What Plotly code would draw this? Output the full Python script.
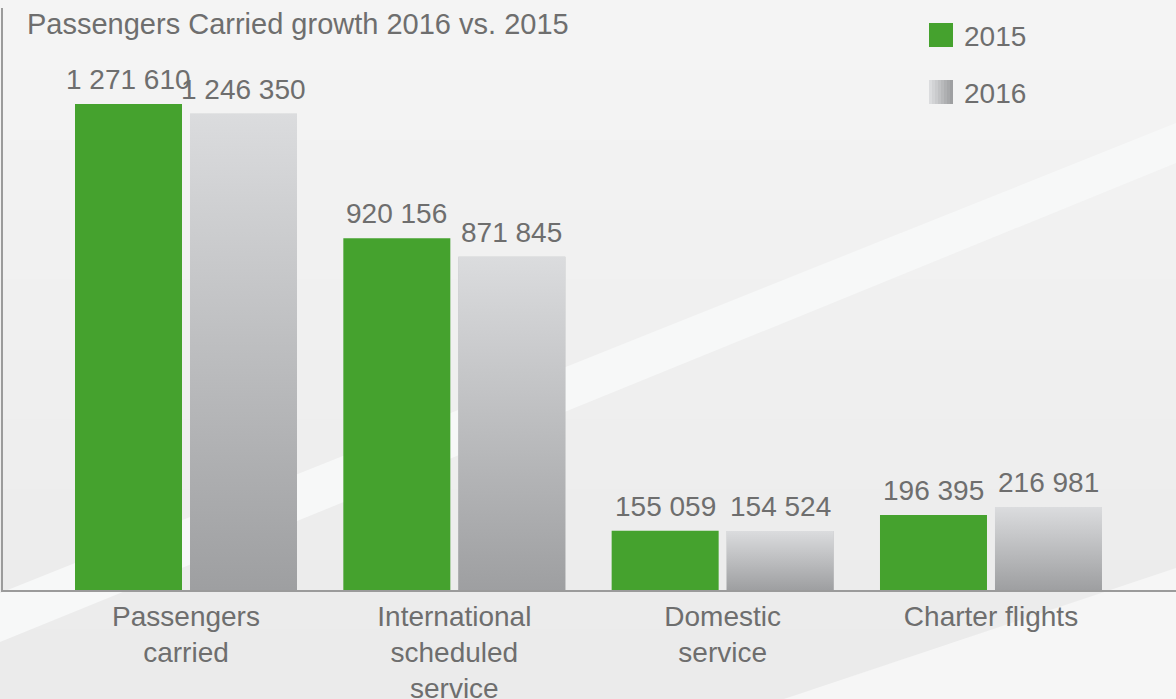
import plotly.graph_objects as go

# ---------------- data ----------------
categories = ["Passengers carried", "International scheduled service",
              "Domestic service", "Charter flights"]
tick_labels = ["Passengers<br>carried", "International<br>scheduled<br>service",
               "Domestic<br>service", "Charter flights"]
series_names = ["2015", "2016"]
values_2015 = [1271610, 920156, 155059, 196395]
values_2016 = [1246350, 871845, 154524, 216981]
title_text = "Passengers Carried growth 2016 vs. 2015"

# ---------------- layout constants ----------------
W, H = 1176, 699
ML, MR, MT, MB = 3, 0, 8, 109
PW = W - ML - MR
PH = H - MT - MB


def px_x(px):
    return (px - ML) / PW


def px_y(py):
    return (H - MB - py) / PH


GREEN = "#45a22e"
GRAY_TOP = "#dbdcde"
GRAY_BOT = "#9e9fa1"
TEXT = "#6e6e6e"
AXIS = "#9b9b9b"
FONT = "Liberation Sans, Arial, sans-serif"

UNIT = 268.33                     # px per category
BAR_W = 107 / UNIT
GAP = 8 / UNIT
off_2015 = -GAP / 2 - BAR_W
off_2016 = GAP / 2
XR = [-(186 - ML) / UNIT, -(186 - ML) / UNIT + PW / UNIT]
YMAX = 1522800

pos = list(range(len(categories)))


def fmt(v):
    return f"{v:,}".replace(",", " ")


fig = go.Figure()

fig.add_trace(go.Bar(
    x=pos, y=values_2015, name=series_names[0], offset=off_2015, width=BAR_W,
    marker=dict(color=GREEN, line=dict(width=0)), showlegend=False,
    customdata=categories, hovertemplate="%{customdata}: %{y}<extra>2015</extra>"))
fig.add_trace(go.Bar(
    x=pos, y=values_2016, name=series_names[1], offset=off_2016, width=BAR_W,
    marker=dict(color="#bdbec0", line=dict(width=0)), showlegend=False,
    customdata=categories, hovertemplate="%{customdata}: %{y}<extra>2016</extra>"))

# vertical gradient overlay for the 2016 bars
for x, v in zip(pos, values_2016):
    x0 = x + off_2016
    x1 = x0 + BAR_W
    fig.add_trace(go.Scatter(
        x=[x0, x0, x1, x1, x0], y=[0, v, v, 0, 0], mode="lines", fill="toself",
        line=dict(width=0, color="rgba(0,0,0,0)"),
        fillgradient=dict(type="vertical", colorscale=[[0, GRAY_BOT], [1, GRAY_TOP]]),
        hoverinfo="skip", showlegend=False))

# value labels
annotations = []
for vals, off in ((values_2015, off_2015), (values_2016, off_2016)):
    for x, v in zip(pos, vals):
        annotations.append(dict(
            x=x + off + BAR_W / 2, y=v, xref="x", yref="y", text=fmt(v),
            showarrow=False, yanchor="bottom", xanchor="center", yshift=7,
            font=dict(family=FONT, size=28, color=TEXT)))

# manual legend
shapes = []
shapes.append(dict(type="rect", xref="paper", yref="paper",
                   x0=px_x(929), x1=px_x(953), y0=px_y(47), y1=px_y(23),
                   fillcolor=GREEN, line=dict(width=0), layer="above"))


def lerp(c1, c2, t):
    a = [int(c1[i:i + 2], 16) for i in (1, 3, 5)]
    b = [int(c2[i:i + 2], 16) for i in (1, 3, 5)]
    return "#" + "".join(f"{round(a[k] + (b[k] - a[k]) * t):02x}" for k in range(3))


NS = 8
for k in range(NS):
    shapes.append(dict(type="rect", xref="paper", yref="paper",
                       x0=px_x(929 + 3 * k), x1=px_x(929 + 3 * (k + 1)),
                       y0=px_y(104), y1=px_y(80),
                       fillcolor=lerp(GRAY_TOP, GRAY_BOT, k / (NS - 1)),
                       line=dict(width=0), layer="above"))
for name, cy in ((series_names[0], 36), (series_names[1], 93)):
    annotations.append(dict(
        x=px_x(962), y=px_y(cy), xref="paper", yref="paper", text=name,
        showarrow=False, xanchor="left", yanchor="middle",
        font=dict(family=FONT, size=28, color=TEXT)))

# background: soft vertical gradient + light diagonal bands
NB = 10
for k in range(NB):
    shapes.append(dict(type="rect", xref="paper", yref="paper",
                       x0=px_x(0), x1=px_x(W),
                       y0=px_y(H * (k + 1) / NB + 1), y1=px_y(H * k / NB),
                       fillcolor=lerp("#f4f4f4", "#ebebeb", k / (NB - 1)),
                       line=dict(width=0), layer="below"))


def poly(pts):
    return "M " + " L ".join(f"{px_x(a):.5f},{px_y(b):.5f}" for a, b in pts) + " Z"


shapes.append(dict(type="path", xref="paper", yref="paper",
                   path=poly([(0, 593), (1176, 123), (1176, 163), (0, 642)]),
                   fillcolor="#f7f8f8", line=dict(width=0), layer="below"))
shapes.append(dict(type="path", xref="paper", yref="paper",
                   path=poly([(784, 699), (1176, 568), (1176, 699)]),
                   fillcolor="#f6f6f6", line=dict(width=0), layer="below"))

fig.update_layout(
    template="none",
    width=W, height=H,
    margin=dict(l=ML, r=MR, t=MT, b=MB, pad=0),
    paper_bgcolor="#f1f1f1",
    plot_bgcolor="rgba(0,0,0,0)",
    barmode="overlay",
    showlegend=False,
    title=dict(text=title_text, x=27 / W, xref="container", xanchor="left",
               y=1 - 24 / H, yref="container", yanchor="middle",
               font=dict(family=FONT, size=29, color=TEXT)),
    font=dict(family=FONT, color=TEXT),
    xaxis=dict(range=XR, tickvals=pos, ticktext=tick_labels, showgrid=False,
               zeroline=False, showline=True, linecolor=AXIS, linewidth=2,
               ticks="", tickfont=dict(family=FONT, size=28, color=TEXT),
               automargin=False, fixedrange=True, layer="below traces"),
    yaxis=dict(range=[0, YMAX], showgrid=False, zeroline=False, showline=True,
               linecolor=AXIS, linewidth=2, ticks="", showticklabels=False,
               automargin=False, fixedrange=True),
    shapes=shapes,
    annotations=annotations,
)

fig.write_html(
    "out.html",
    config={"displayModeBar": False},
    post_script="document.body.style.margin='0';document.body.style.background='#f1f1f1';",
)
